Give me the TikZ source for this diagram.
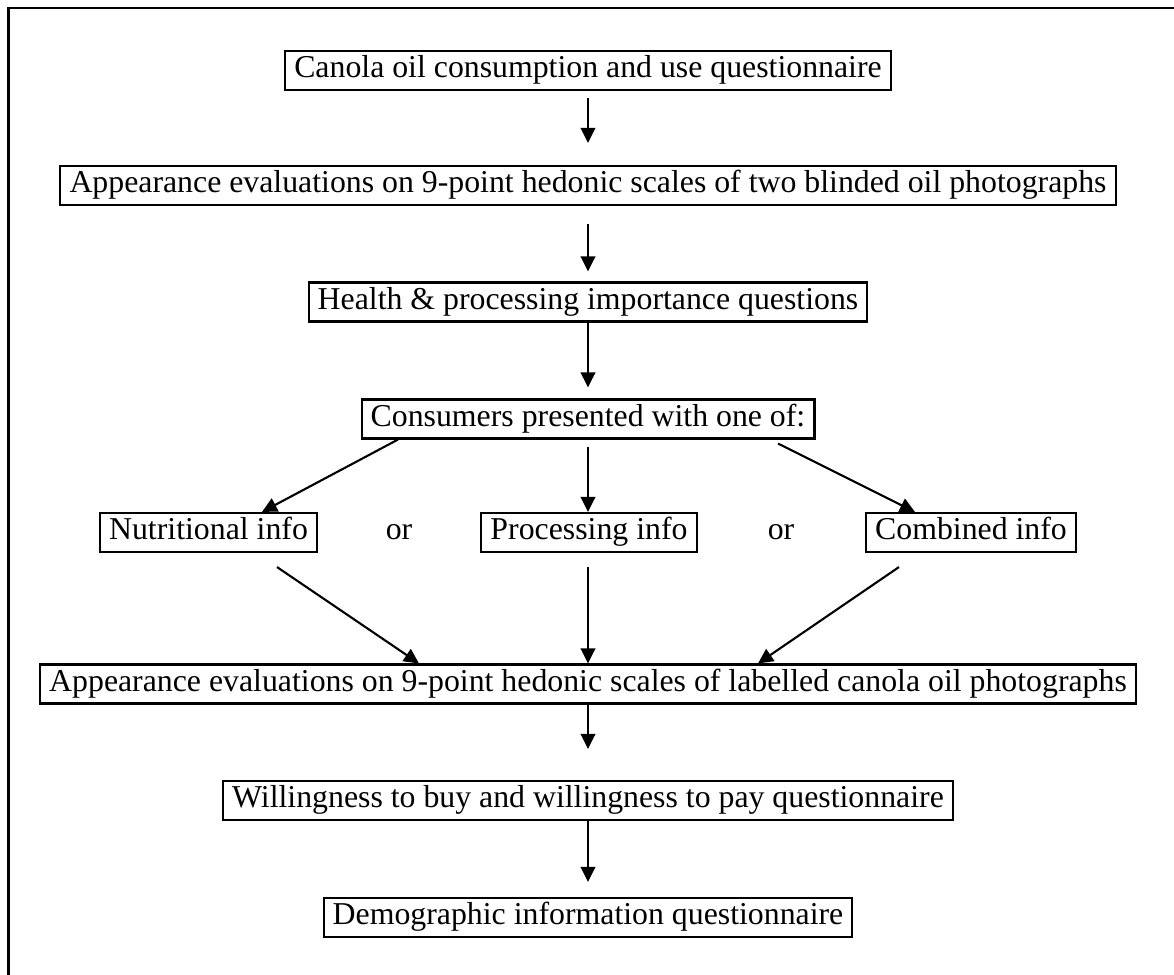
\documentclass[tikz,border=0pt]{standalone}
\usepackage{fontspec}
\setmainfont{Liberation Serif}
\usetikzlibrary{arrows.meta}
\begin{document}
\begin{tikzpicture}[font=\fontsize{9.05}{10.5}\selectfont, line width=0.6pt,
        >={Triangle[length=1.5mm, width=1.45mm]},
        box/.style={draw, inner xsep=2.6pt, inner ysep=1.55pt, text height=6.1pt, text depth=1.9pt}]
                \useasboundingbox (0, 0) rectangle (11.74, 9.75);
                \draw (11.74, 9.67) -- (0.085, 9.67) -- (0.085, 0);
                
                \draw (5.88, 9.045) node[box] (canola) {Canola oil consumption and use questionnaire};
                \draw (5.88, 7.895) node[box] (blind) {Appearance evaluations on 9-point hedonic scales of two blinded oil photographs};
                \draw (5.88, 6.73) node[box] (health) {Health \& processing importance questions};
                \draw (5.88, 5.56) node[box] (consumers) {Consumers presented with one of:};
                
                \draw (2.085, 4.425) node[box] (nutrition) {Nutritional info};
                \draw (3.99, 4.425) node (or1) {or};
                \draw (5.89, 4.425) node[box] (processing) {Processing info};
                \draw (7.81, 4.425) node (or2) {or};
                \draw (9.71, 4.425) node[box] (combined) {Combined info};
                
                \draw (5.88, 2.91) node[box] (labelled) {Appearance evaluations on 9-point hedonic scales of labelled canola oil photographs};
                \draw (5.88, 1.745) node[box] (willing) {Willingness to buy and willingness to pay questionnaire};
                \draw (5.88, 0.575) node[box] (demographic) {Demographic information questionnaire};
                
                \draw [->] ([yshift=-0.07cm]canola.south) -- ([yshift=0.22cm]blind.north);
                \draw [->] ([yshift=-0.18cm]blind.south) -- ([yshift=0.10cm]health.north);
                \draw [->] (health.south) -- ([yshift=0.11cm]consumers.north);
                
                \draw [->] ([xshift=-1.90cm]consumers.south) -- ([xshift=0.535cm]nutrition.north);
                \draw [->] ([yshift=-0.07cm]consumers.south) -- (processing.north -| consumers.south);
                \draw [->] ([xshift=1.90cm, yshift=-0.04cm]consumers.south) -- ([xshift=-0.56cm]combined.north);
                
                \draw [->] ([xshift=0.685cm, yshift=-0.14cm]nutrition.south) -- ([xshift=-1.69cm]labelled.north);
                \draw [->] ([yshift=-0.14cm]processing.south -| labelled.north) -- (labelled.north);
                \draw [->] ([xshift=-0.72cm, yshift=-0.14cm]combined.south) -- ([xshift=1.70cm]labelled.north);
                
                \draw [->] (labelled.south) -- ([yshift=0.31cm]willing.north);
                \draw [->] (willing.south) -- ([yshift=0.15cm]demographic.north);
            \end{tikzpicture}
\end{document}
